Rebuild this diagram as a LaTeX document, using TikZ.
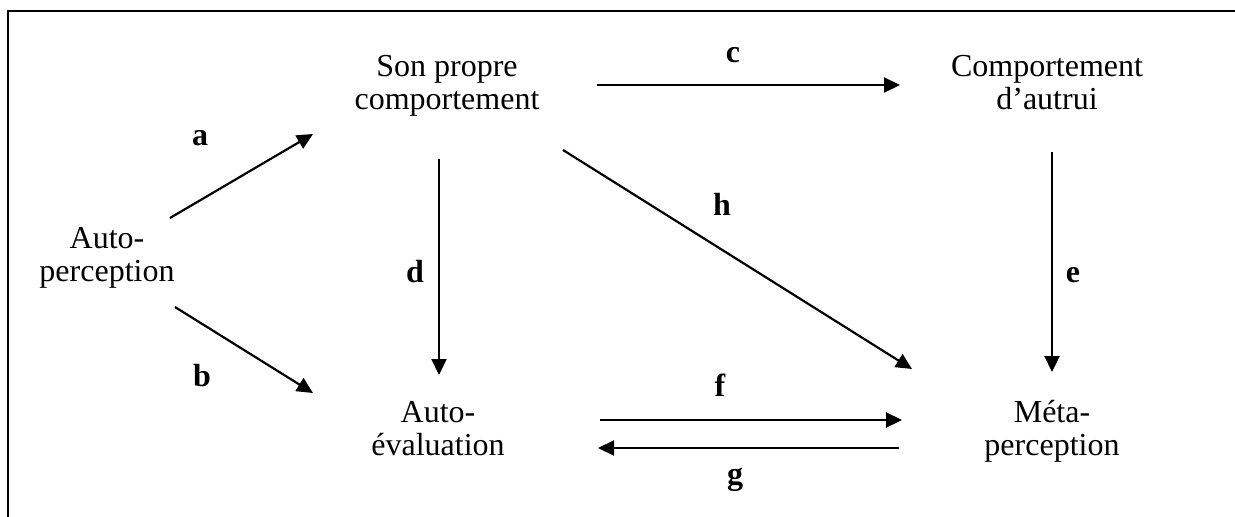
\documentclass[tikz,border=0pt]{standalone}
\usepackage{fontspec}
\setmainfont{Liberation Serif}
\usetikzlibrary{arrows.meta}
\begin{document}
\begin{tikzpicture}[x=1pt,y=-1pt,
  txt/.style={align=center, font=\fontsize{32}{33}\selectfont, inner sep=0pt},
  lbl/.style={font=\fontsize{32}{33}\selectfont\bfseries, inner sep=0pt},
  arr/.style={line width=2.2pt, -{Triangle[length=16pt,width=15pt]}},
  frameline/.style={line width=2.2pt}]
\useasboundingbox (0,0) rectangle (1235,517);
% frame
\draw[frameline] (8,517) -- (8,11) -- (1235,11);
% text nodes
\node[txt] (sp) at (447,86.5) {\strut Son propre\\\strut comportement};
\node[txt] (ca) at (1047,86.5) {\strut Comportement\\\strut d’autrui};
\node[txt] (ap) at (107,258) {\strut Auto-\\\strut perception};
\node[txt] (ae) at (438,432) {\strut Auto-\\\strut évaluation};
\node[txt] (mp) at (1052,432) {\strut Méta-\\\strut perception};
% connector end points
\coordinate (a1) at (170,218); \coordinate (a2) at (313,134);
\coordinate (b1) at (175,307); \coordinate (b2) at (313,393);
\coordinate (c1) at (597,85);  \coordinate (c2) at (900,85);
\coordinate (d1) at (439,159); \coordinate (d2) at (439,375);
\coordinate (e1) at (1052,152); \coordinate (e2) at (1052,372);
\coordinate (h1) at (563,150); \coordinate (h2) at (912,369);
\coordinate (f1) at (600,420); \coordinate (f2) at (902,420);
\coordinate (g1) at (899,448); \coordinate (g2) at (598,448);
% connectors
\draw[arr] (a1) -- (a2);
\draw[arr] (b1) -- (b2);
\draw[arr] (c1) -- (c2);
\draw[arr] (d1) -- (d2);
\draw[arr] (e1) -- (e2);
\draw[arr] (h1) -- (h2);
\draw[arr] (f1) -- (f2);
\draw[arr] (g1) -- (g2);
% labels
\node[lbl] (la) at (200,138) {a};
\node[lbl] (lb) at (202,376) {b};
\node[lbl] (lc) at (733,55) {c};
\node[lbl] (ld) at (415,272) {d};
\node[lbl] (le) at (1073,275) {e};
\node[lbl] (lh) at (722,204) {h};
\node[lbl] (lf) at (720,385) {f};
\node[lbl] (lg) at (735,480) {g};
\end{tikzpicture}
\end{document}
